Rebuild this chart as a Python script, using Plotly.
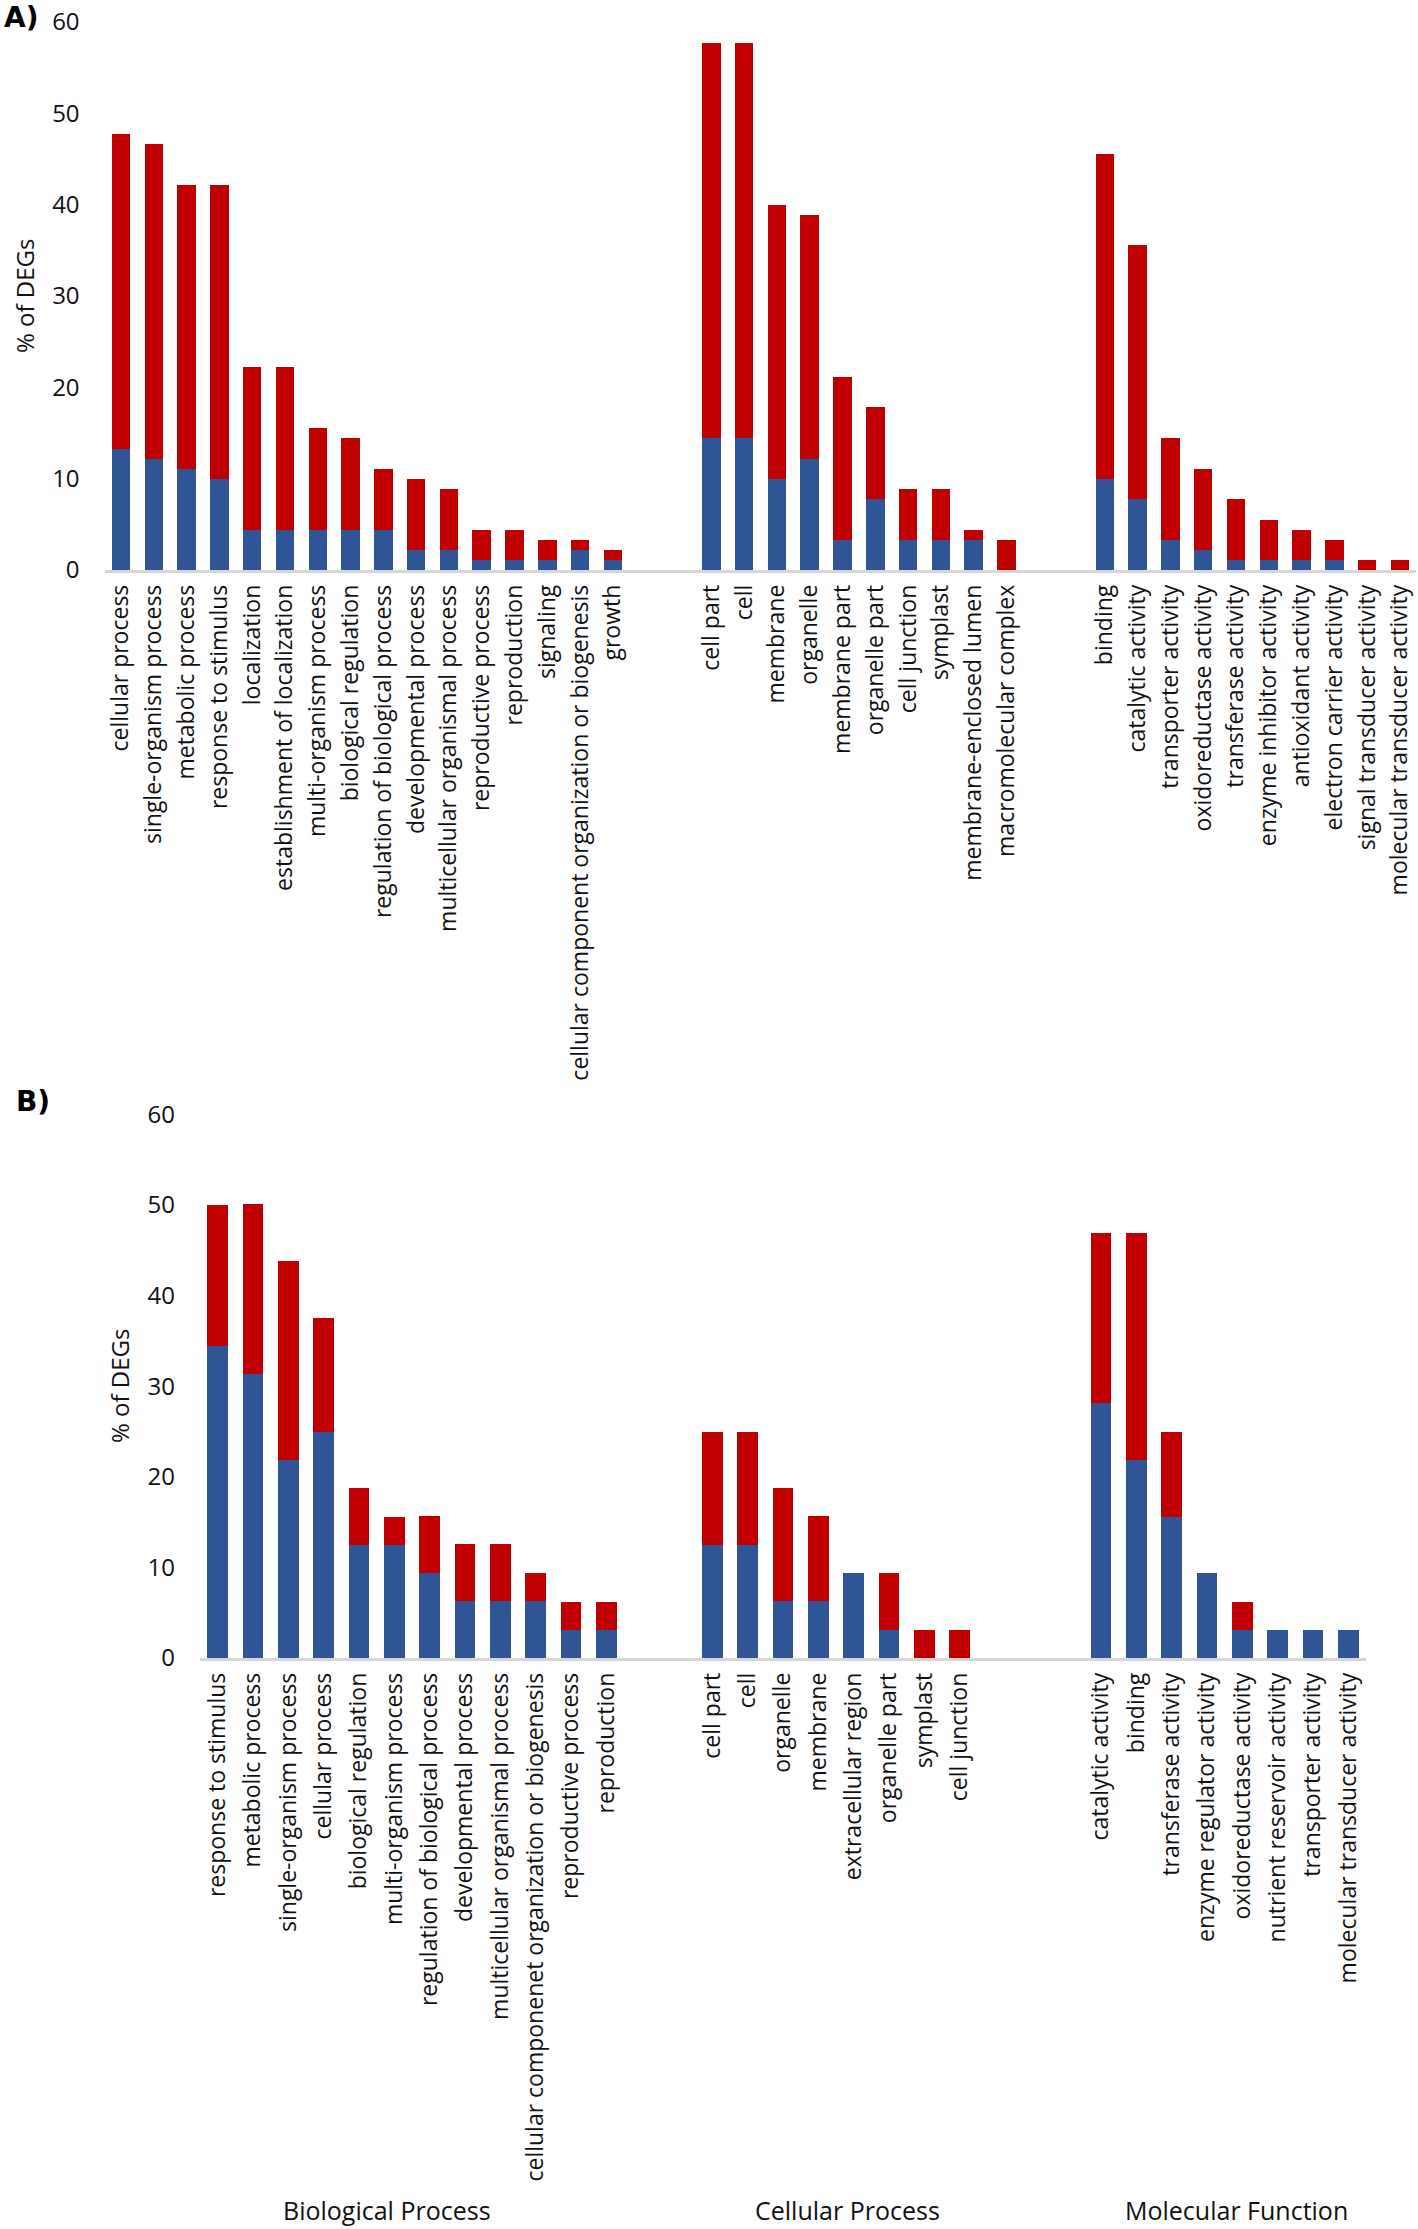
import plotly.graph_objects as go

# ---------------- Panel A data ----------------
a_bp_labels = ["cellular process", "single-organism process", "metabolic process",
               "response to stimulus", "localization", "establishment of localization",
               "multi-organism process", "biological regulation",
               "regulation of biological process", "developmental process",
               "multicellular organismal process", "reproductive process", "reproduction",
               "signaling", "cellular component organization or biogenesis", "growth"]
a_bp_blue = [13.3, 12.2, 11.1, 10.0, 4.4, 4.4, 4.4, 4.4, 4.4, 2.2, 2.2, 1.1, 1.1, 1.1, 2.2, 1.1]
a_bp_red = [34.4, 34.4, 31.1, 32.2, 17.8, 17.8, 11.1, 10.0, 6.7, 7.8, 6.7, 3.3, 3.3, 2.2, 1.1, 1.1]

a_cc_labels = ["cell part", "cell", "membrane", "organelle", "membrane part", "organelle part",
               "cell junction", "symplast", "membrane-enclosed lumen", "macromolecular complex"]
a_cc_blue = [14.4, 14.4, 10.0, 12.2, 3.3, 7.8, 3.3, 3.3, 3.3, 0.0]
a_cc_red = [43.3, 43.3, 30.0, 26.7, 17.8, 10.0, 5.6, 5.6, 1.1, 3.3]

a_mf_labels = ["binding", "catalytic activity", "transporter activity",
               "oxidoreductase activity", "transferase activity", "enzyme inhibitor activity",
               "antioxidant activity", "electron carrier activity",
               "signal transducer activity", "molecular transducer activity"]
a_mf_blue = [10.0, 7.8, 3.3, 2.2, 1.1, 1.1, 1.1, 1.1, 0.0, 0.0]
a_mf_red = [35.6, 27.8, 11.1, 8.9, 6.7, 4.4, 3.3, 2.2, 1.1, 1.1]

# ---------------- Panel B data ----------------
b_bp_labels = ["response to stimulus", "metabolic process", "single-organism process",
               "cellular process", "biological regulation", "multi-organism process",
               "regulation of biological process", "developmental process",
               "multicellular organismal process",
               "cellular componenet organization or biogenesis", "reproductive process",
               "reproduction"]
b_bp_blue = [34.4, 31.3, 21.9, 25.0, 12.5, 12.5, 9.4, 6.3, 6.3, 6.3, 3.1, 3.1]
b_bp_red = [15.6, 18.8, 21.9, 12.5, 6.3, 3.1, 6.3, 6.3, 6.3, 3.1, 3.1, 3.1]

b_cc_labels = ["cell part", "cell", "organelle", "membrane", "extracellular region",
               "organelle part", "symplast", "cell junction"]
b_cc_blue = [12.5, 12.5, 6.3, 6.3, 9.4, 3.1, 0.0, 0.0]
b_cc_red = [12.5, 12.5, 12.5, 9.4, 0.0, 6.3, 3.1, 3.1]

b_mf_labels = ["catalytic activity", "binding", "transferase activity",
               "enzyme regulator activity", "oxidoreductase activity",
               "nutrient reservoir activity", "transporter activity",
               "molecular transducer activity"]
b_mf_blue = [28.1, 21.9, 15.6, 9.4, 3.1, 3.1, 3.1, 3.1]
b_mf_red = [18.8, 25.0, 9.4, 0.0, 3.1, 0.0, 0.0, 0.0]

group_names = ["Biological Process", "Cellular Process", "Molecular Function"]
y_ticks = [0, 10, 20, 30, 40, 50, 60]

BLUE = "#2F5597"
RED = "#C00000"
W, H = 1418, 2229
FONT = "Open Sans"


def fx(px):
    return px / W


def fy(py):
    return 1 - py / H


def arrange(groups, gaps):
    xs, labels, blue, red, centers = [], [], [], [], []
    pos = 0
    for i, (lab, b, r) in enumerate(groups):
        start = pos
        for _ in lab:
            xs.append(pos)
            pos += 1
        centers.append((start + pos - 1) / 2)
        labels += lab
        blue += b
        red += r
        if i < len(gaps):
            pos += gaps[i]
    return xs, labels, blue, red, centers, pos


ax_a, lab_a, blue_a, red_a, cen_a, n_a = arrange(
    [(a_bp_labels, a_bp_blue, a_bp_red), (a_cc_labels, a_cc_blue, a_cc_red),
     (a_mf_labels, a_mf_blue, a_mf_red)], [2, 2])
ax_b, lab_b, blue_b, red_b, cen_b, n_b = arrange(
    [(b_bp_labels, b_bp_blue, b_bp_red), (b_cc_labels, b_cc_blue, b_cc_red),
     (b_mf_labels, b_mf_blue, b_mf_red)], [2, 3])

fig = go.Figure()
fig.add_trace(go.Bar(x=ax_a, y=blue_a, marker_color=BLUE, width=0.564, xaxis="x", yaxis="y",
                     marker_line_width=0, showlegend=False))
fig.add_trace(go.Bar(x=ax_a, y=red_a, marker_color=RED, width=0.564, xaxis="x", yaxis="y",
                     marker_line_width=0, showlegend=False))
fig.add_trace(go.Bar(x=ax_b, y=blue_b, marker_color=BLUE, width=0.577, xaxis="x2", yaxis="y2",
                     marker_line_width=0, showlegend=False))
fig.add_trace(go.Bar(x=ax_b, y=red_b, marker_color=RED, width=0.577, xaxis="x2", yaxis="y2",
                     marker_line_width=0, showlegend=False))

tickfont = dict(family=FONT, size=23, color="#111111")
ytickfont = dict(family=FONT, size=24, color="#111111")


def xax(domain, xs, labels, n, anchor):
    return dict(domain=domain, range=[-0.5, n - 0.5], tickmode="array", tickvals=xs,
                ticktext=labels, tickangle=-90, showline=True, linecolor="#d6d6d6",
                linewidth=2.5, showgrid=False, zeroline=False, ticks="", tickfont=tickfont,
                anchor=anchor, ticklabelstandoff=3, fixedrange=True, automargin=False,
                ticklabeloverflow="allow")


def yax(domain, anchor):
    return dict(domain=domain, range=[0, 60], tickmode="array", tickvals=y_ticks,
                showgrid=False, zeroline=False, showline=False, ticks="", tickfont=ytickfont,
                anchor=anchor, ticklabelstandoff=24, fixedrange=True, automargin=False,
                ticklabeloverflow="allow")


fig.update_layout(
    width=W, height=H, margin=dict(l=0, r=0, t=0, b=0, autoexpand=False),
    paper_bgcolor="white", plot_bgcolor="white", barmode="stack", showlegend=False,
    xaxis=xax([fx(104.6), fx(1416.4)], ax_a, lab_a, n_a, "y"),
    yaxis=yax([fy(570), fy(22)], "x"),
    xaxis2=xax([fx(200), fx(1366)], ax_b, lab_b, n_b, "y2"),
    yaxis2=yax([fy(1658), fy(1114.5)], "x2"),
)

ann = [
    dict(text="<b>A)</b>", x=fx(2), y=fy(17), xanchor="left", yanchor="middle",
         font=dict(family="DejaVu Sans", size=28, color="#000")),
    dict(text="<b>B)</b>", x=fx(14), y=fy(1101), xanchor="left", yanchor="middle",
         font=dict(family="DejaVu Sans", size=28, color="#000")),
    dict(text="% of DEGs", x=fx(24), y=fy(296), textangle=-90, xanchor="center",
         yanchor="middle", font=dict(family=FONT, size=24, color="#111")),
    dict(text="% of DEGs", x=fx(119), y=fy(1386), textangle=-90, xanchor="center",
         yanchor="middle", font=dict(family=FONT, size=24, color="#111")),
]
shifts = [-25, 11, 12]
for name, c, s in zip(group_names, cen_b, shifts):
    ann.append(dict(text=name, x=c, xref="x2", y=fy(2210), yref="paper",
                    xanchor="center", yanchor="middle", xshift=s,
                    font=dict(family=FONT, size=25, color="#111")))
for a in ann:
    a.setdefault("xref", "paper")
    a.setdefault("yref", "paper")
    a["showarrow"] = False
fig.update_layout(annotations=ann)

page_css = ("document.body.style.margin='0';document.body.style.padding='0';"
            "document.documentElement.style.overflow='hidden';")
fig.write_html("out.html", post_script=page_css,
               config={"displayModeBar": False, "staticPlot": True})
